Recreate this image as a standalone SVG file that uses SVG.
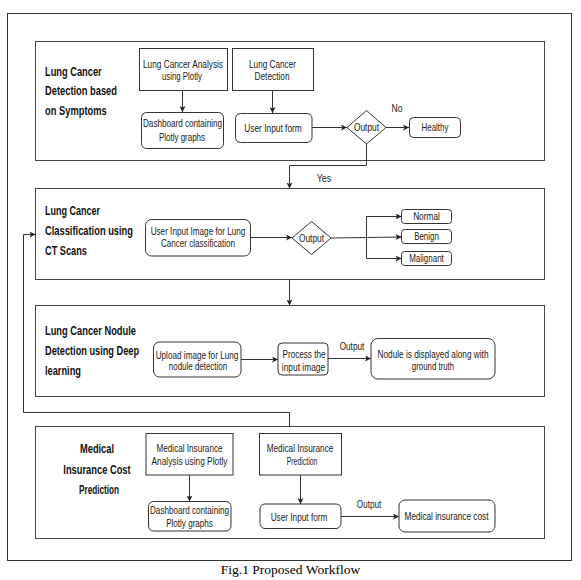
<svg xmlns="http://www.w3.org/2000/svg" width="581" height="580" viewBox="0 0 581 580">
<style>
.frame{fill:none;stroke:#333;stroke-width:1}
.sec{fill:#fff;stroke:#444;stroke-width:1}
.box{fill:#fff;stroke:#333;stroke-width:1}
.t{font-family:"Liberation Sans",Arial,sans-serif;font-size:10.5px;fill:#1a1a1a;text-anchor:middle}
.h{font-family:"Liberation Sans",Arial,sans-serif;font-size:12px;font-weight:bold;fill:#111}
.hc{text-anchor:middle}
.c{fill:none;stroke:#333;stroke-width:1}
.cap{font-family:"Liberation Serif","Times New Roman",serif;font-size:13.5px;fill:#000;text-anchor:middle}
</style>
<defs>
<marker id="arr" markerUnits="userSpaceOnUse" markerWidth="7" markerHeight="6" refX="6" refY="3" orient="auto">
<path d="M0,0 L6,3 L0,6 L1.5,3 z" fill="#222"/>
</marker>
</defs>
<rect width="581" height="580" fill="#fff"/>
<rect class="frame" x="7.5" y="13.5" width="564" height="547"/>

<g id="section1">
<rect class="sec" x="35.5" y="41.5" width="509" height="119"/>
<text class="h" x="45" y="76" textLength="56.7" lengthAdjust="spacingAndGlyphs">Lung Cancer</text>
<text class="h" x="45" y="95.3" textLength="72" lengthAdjust="spacingAndGlyphs">Detection based</text>
<text class="h" x="45" y="115.3" textLength="61.7" lengthAdjust="spacingAndGlyphs">on Symptoms</text>
</g>
<g id="section2">
<rect class="sec" x="35.5" y="188.5" width="509" height="91"/>
<text class="h" x="45" y="215.3" textLength="55" lengthAdjust="spacingAndGlyphs">Lung Cancer</text>
<text class="h" x="45" y="235.3" textLength="88" lengthAdjust="spacingAndGlyphs">Classification using</text>
<text class="h" x="45" y="255.3" textLength="42" lengthAdjust="spacingAndGlyphs">CT Scans</text>
</g>
<g id="section3">
<rect class="sec" x="35.5" y="305.5" width="509" height="91"/>
<text class="h" x="45" y="334.5" textLength="91" lengthAdjust="spacingAndGlyphs">Lung Cancer Nodule</text>
<text class="h" x="45" y="354.5" textLength="94" lengthAdjust="spacingAndGlyphs">Detection using Deep</text>
<text class="h" x="45" y="375" textLength="36" lengthAdjust="spacingAndGlyphs">learning</text>
</g>
<g id="section4">
<rect class="sec" x="35.5" y="426.5" width="509" height="112"/>
<text class="h hc" x="97" y="453.3" textLength="34" lengthAdjust="spacingAndGlyphs">Medical</text>
<text class="h hc" x="97" y="474.3" textLength="67.3" lengthAdjust="spacingAndGlyphs">Insurance Cost</text>
<text class="h hc" x="99" y="494.3" textLength="40" lengthAdjust="spacingAndGlyphs">Prediction</text>
</g>

<g id="connectors">
<path class="c" d="M182.5,90.5 V112" marker-end="url(#arr)"/>
<path class="c" d="M272.5,90.5 V113" marker-end="url(#arr)"/>
<path class="c" d="M312,127.5 H347" marker-end="url(#arr)"/>
<path class="c" d="M386,127.5 H409" marker-end="url(#arr)"/>
<path class="c" d="M366.5,143.5 V165.5 H289.5 V188.5" marker-end="url(#arr)"/>
<path class="c" d="M250,237.5 H292" marker-end="url(#arr)"/>
<path class="c" d="M331,238 L401.5,237" marker-end="url(#arr)"/>
<path class="c" d="M401.5,216.5 H366.5 V258.5 H401.5" marker-end="url(#arr)"/>
<path class="c" d="M366.5,216.5 H401.5" marker-end="url(#arr)"/>
<path class="c" d="M289.5,279.5 V305.5" marker-end="url(#arr)"/>
<path class="c" d="M241,359.5 H278" marker-end="url(#arr)"/>
<path class="c" d="M328,358.5 H371" marker-end="url(#arr)"/>
<path class="c" d="M289.5,426.5 V412.5 H23.5 V234.5 H35.5" marker-end="url(#arr)"/>
<path class="c" d="M189.5,475 V501.5" marker-end="url(#arr)"/>
<path class="c" d="M300.5,475 V504" marker-end="url(#arr)"/>
<path class="c" d="M341,516.5 H399" marker-end="url(#arr)"/>
<text class="t" x="397" y="111.5" textLength="11" lengthAdjust="spacingAndGlyphs">No</text>
<text class="t" x="324" y="181.5" textLength="14.5" lengthAdjust="spacingAndGlyphs">Yes</text>
<text class="t" x="352" y="350" textLength="24.7" lengthAdjust="spacingAndGlyphs">Output</text>
<text class="t" x="369" y="507.5" textLength="24.3" lengthAdjust="spacingAndGlyphs">Output</text>
</g>

<g id="n_lc_analysis">
<rect class="box" x="139.5" y="48.5" width="88" height="42"/>
<text class="t" x="183" y="68" textLength="80" lengthAdjust="spacingAndGlyphs">Lung Cancer Analysis</text>
<text class="t" x="182" y="80" textLength="40" lengthAdjust="spacingAndGlyphs">using Plotly</text>
</g>
<g id="n_lc_detection">
<rect class="box" x="232.5" y="48.5" width="81" height="42"/>
<text class="t" x="272.5" y="68" textLength="47" lengthAdjust="spacingAndGlyphs">Lung Cancer</text>
<text class="t" x="272" y="80" textLength="35" lengthAdjust="spacingAndGlyphs">Detection</text>
</g>
<g id="n_dashboard1">
<rect class="box" x="141.5" y="112.5" width="82" height="36" rx="5"/>
<text class="t" x="182.5" y="127" textLength="79" lengthAdjust="spacingAndGlyphs">Dashboard containing</text>
<text class="t" x="182" y="140.5" textLength="46" lengthAdjust="spacingAndGlyphs">Plotly graphs</text>
</g>
<g id="n_user_input1">
<rect class="box" x="235.5" y="113.5" width="76.5" height="29" rx="5"/>
<text class="t" x="273" y="131.5" textLength="57.5" lengthAdjust="spacingAndGlyphs">User Input form</text>
</g>
<g id="n_output1">
<polygon class="box" points="347,127.5 366.5,110.5 386,127.5 366.5,144"/>
<text class="t" x="366.5" y="131" textLength="25" lengthAdjust="spacingAndGlyphs">Output</text>
</g>
<g id="n_healthy">
<rect class="box" x="409.5" y="117.5" width="51" height="20" rx="4"/>
<text class="t" x="435" y="131" textLength="27" lengthAdjust="spacingAndGlyphs">Healthy</text>
</g>

<g id="n_user_image">
<rect class="box" x="145.5" y="219.5" width="105" height="36.5" rx="6"/>
<text class="t" x="198" y="234.5" textLength="94.7" lengthAdjust="spacingAndGlyphs">User Input Image for Lung</text>
<text class="t" x="198" y="247.2" textLength="74" lengthAdjust="spacingAndGlyphs">Cancer classification</text>
</g>
<g id="n_output2">
<polygon class="box" points="292,238 311.5,221.5 331,238 311.5,254.5"/>
<text class="t" x="311.5" y="241.5" textLength="25" lengthAdjust="spacingAndGlyphs">Output</text>
</g>
<g id="n_normal">
<rect class="box" x="401.5" y="209.5" width="50" height="14" rx="3"/>
<text class="t" x="426.5" y="220" textLength="26.7" lengthAdjust="spacingAndGlyphs">Normal</text>
</g>
<g id="n_benign">
<rect class="box" x="401.5" y="229.5" width="50" height="14" rx="3"/>
<text class="t" x="426.5" y="240" textLength="24.7" lengthAdjust="spacingAndGlyphs">Benign</text>
</g>
<g id="n_malignant">
<rect class="box" x="401.5" y="251.5" width="50" height="14" rx="3"/>
<text class="t" x="426.5" y="262" textLength="34.7" lengthAdjust="spacingAndGlyphs">Malignant</text>
</g>

<g id="n_upload">
<rect class="box" x="153.5" y="342" width="87.5" height="35" rx="6"/>
<text class="t" x="197" y="358.5" textLength="82.7" lengthAdjust="spacingAndGlyphs">Upload image for Lung</text>
<text class="t" x="198" y="370" textLength="58.3" lengthAdjust="spacingAndGlyphs">nodule detection</text>
</g>
<g id="n_process">
<rect class="box" x="278" y="343" width="50" height="32" rx="4"/>
<text class="t" x="304" y="357.8" textLength="43" lengthAdjust="spacingAndGlyphs">Process the</text>
<text class="t" x="303.5" y="370.5" textLength="43.3" lengthAdjust="spacingAndGlyphs">input image</text>
</g>
<g id="n_nodule">
<rect class="box" x="371" y="338.5" width="124" height="40.5" rx="7"/>
<text class="t" x="433" y="358.3" textLength="111" lengthAdjust="spacingAndGlyphs">Nodule is displayed along with</text>
<text class="t" x="433" y="370" textLength="42.3" lengthAdjust="spacingAndGlyphs">ground truth</text>
</g>

<g id="n_mi_analysis">
<rect class="box" x="146" y="433.5" width="87" height="41.5"/>
<text class="t" x="189.5" y="452" textLength="66" lengthAdjust="spacingAndGlyphs">Medical Insurance</text>
<text class="t" x="189.5" y="465.2" textLength="76" lengthAdjust="spacingAndGlyphs">Analysis using Plotly</text>
</g>
<g id="n_dashboard2">
<rect class="box" x="148.5" y="501.5" width="82.5" height="29.5" rx="5"/>
<text class="t" x="189.5" y="514.2" textLength="79" lengthAdjust="spacingAndGlyphs">Dashboard containing</text>
<text class="t" x="189.5" y="526.8" textLength="46.7" lengthAdjust="spacingAndGlyphs">Plotly graphs</text>
</g>
<g id="n_mi_prediction">
<rect class="box" x="259.5" y="433.5" width="82" height="41.5"/>
<text class="t" x="300" y="452" textLength="66.7" lengthAdjust="spacingAndGlyphs">Medical Insurance</text>
<text class="t" x="302" y="465.2" textLength="30.7" lengthAdjust="spacingAndGlyphs">Prediction</text>
</g>
<g id="n_user_input2">
<rect class="box" x="260" y="504" width="81" height="24.5" rx="5"/>
<text class="t" x="299" y="520.8" textLength="56.7" lengthAdjust="spacingAndGlyphs">User Input form</text>
</g>
<g id="n_mi_cost">
<rect class="box" x="399" y="500" width="96" height="32" rx="6"/>
<text class="t" x="446.5" y="520.2" textLength="84" lengthAdjust="spacingAndGlyphs">Medical insurance cost</text>
</g>

<text class="cap" x="290.5" y="574">Fig.1 Proposed Workflow</text>
</svg>
